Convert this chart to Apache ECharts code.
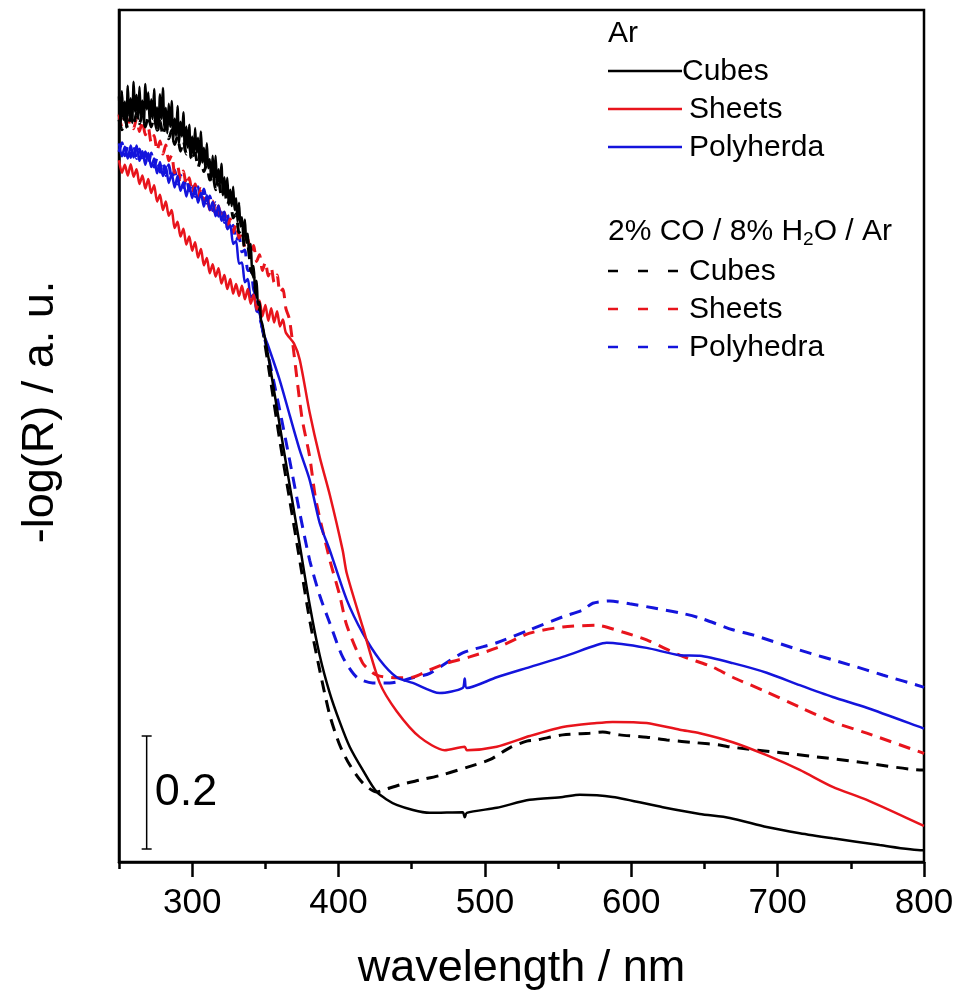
<!DOCTYPE html>
<html><head><meta charset="utf-8">
<script src="https://cdn.jsdelivr.net/npm/echarts@6/dist/echarts.min.js"></script>
<style>html,body{margin:0;padding:0;background:#fff}#c{width:959px;height:997px}</style>
</head><body><div id="c"></div>
<script>
const FONT = '"Liberation Sans", Arial, Helvetica, sans-serif';
const BLACK = '#000000', RED = '#e8141c', BLUE = '#1414dc';

const majorTicks = [300, 400, 500, 600, 700, 800];
const minorTicks = [250, 350, 450, 550, 650, 750];

// Ar, Cubes (solid black)
const arCubes = [[250,1.355],[251,1.305],[252,1.364],[253,1.314],[254,1.346],[255,1.300],[256,1.374],[257,1.319],[258,1.352],[259,1.308],[260,1.381],[261,1.327],[262,1.358],[263,1.315],[264,1.372],[265,1.320],[266,1.348],[267,1.307],[268,1.377],[269,1.332],[270,1.362],[271,1.308],[272,1.350],[273,1.315],[274,1.368],[275,1.306],[276,1.336],[277,1.296],[278,1.359],[279,1.315],[280,1.370],[281,1.301],[282,1.335],[283,1.290],[284,1.342],[285,1.301],[286,1.347],[287,1.276],[288,1.316],[289,1.285],[290,1.338],[291,1.272],[292,1.310],[293,1.284],[294,1.327],[295,1.258],[296,1.302],[297,1.264],[298,1.305],[299,1.246],[300,1.284],[301,1.250],[302,1.299],[303,1.255],[304,1.282],[305,1.235],[306,1.293],[307,1.238],[308,1.264],[309,1.227],[310,1.272],[311,1.228],[312,1.244],[313,1.207],[314,1.250],[315,1.206],[316,1.250],[317,1.197],[318,1.226],[319,1.200],[320,1.236],[321,1.180],[322,1.212],[323,1.180],[324,1.211],[325,1.163],[326,1.190],[327,1.161],[328,1.195],[329,1.154],[330,1.175],[331,1.133],[332,1.167],[333,1.125],[334,1.141],[335,1.104],[336,1.137],[337,1.096],[338,1.112],[339,1.070],[340,1.094],[341,1.045],[342,1.055],[343,1.010],[344,1.029],[345,0.986],[346,0.991],[347,0.960],[348,0.951],
 [353.0,0.880],[359.8,0.773],[366.6,0.667],[373.5,0.561],[380.3,0.455],[387.1,0.366],[394.0,0.299],[400.8,0.248],[407.6,0.204],[416.5,0.163],[426.1,0.124],[439.7,0.101],[462.3,0.087],[484.8,0.088],[486.2,0.079],[487.6,0.087],[508.1,0.096],[530.6,0.110],[553.2,0.115],[564.8,0.119],[587.3,0.115],[621.5,0.097],[646.8,0.085],[667.3,0.078],[692.5,0.062],[715.1,0.051],[737.6,0.042],[769.7,0.030],[799.1,0.021],[800,0.021]];

// Ar, Sheets (solid red)
const arSheets = [[250,1.242],[252,1.220],[254,1.234],[256,1.215],[258,1.235],[260,1.213],[262,1.226],[264,1.200],[266,1.215],[268,1.192],[270,1.209],[272,1.184],[274,1.198],[276,1.169],[278,1.181],[280,1.154],[282,1.169],[284,1.144],[286,1.154],[288,1.122],[290,1.133],[292,1.107],[294,1.121],[296,1.093],[298,1.107],[300,1.082],[302,1.097],[304,1.070],[306,1.085],[308,1.056],[310,1.069],[312,1.042],[314,1.058],[316,1.036],[318,1.051],[320,1.024],[322,1.039],[324,1.014],[326,1.032],[328,1.006],[330,1.023],[332,1.002],[334,1.020],[336,0.996],[338,1.014],[340,0.988],[342,1.004],[344,0.978],[346,0.994],[348,0.966],[350,0.986],[352,0.958],[354,0.980],[356,0.955],[358,0.975],[360,0.948],[362,0.960],[364,0.937],
 [369.5,0.918],[373.5,0.889],[380.3,0.795],[387.1,0.717],[394.0,0.650],[402.8,0.552],[405.6,0.511],[416.5,0.416],[428.1,0.317],[439.7,0.267],[455.5,0.221],[472.5,0.198],[486.2,0.204],[487.6,0.198],[508.1,0.204],[530.6,0.223],[553.2,0.239],[576.4,0.246],[587.3,0.248],[610.5,0.246],[633.1,0.234],[646.8,0.228],[669.3,0.212],[692.5,0.189],[715.1,0.163],[737.6,0.133],[760.9,0.110],[799.1,0.065],[800,0.064]];

// Ar, Polyherda (solid blue)
const arPolyhedra = [[250,1.272],[252,1.249],[254,1.266],[256,1.245],[258,1.268],[260,1.247],[262,1.268],[264,1.241],[266,1.258],[268,1.234],[270,1.255],[272,1.230],[274,1.245],[276,1.219],[278,1.239],[280,1.214],[282,1.231],[284,1.202],[286,1.218],[288,1.194],[290,1.214],[292,1.188],[294,1.203],[296,1.178],[298,1.198],[300,1.175],[302,1.194],[304,1.167],[306,1.184],[308,1.160],[310,1.180],[312,1.154],[314,1.168],[316,1.143],[318,1.162],[320,1.135],[322,1.151],[324,1.120],[326,1.127],[328,1.094],[330,1.099],[332,1.059],[334,1.061],[336,1.026],[338,1.032],[340,0.999],[342,1.005],[344,0.975],[346,0.972],[348,0.941],
 [351.6,0.916],[359.8,0.853],[366.6,0.791],[373.5,0.729],[380.3,0.676],[387.1,0.600],[394.0,0.552],[405.6,0.464],[416.5,0.405],[428.1,0.358],[439.7,0.327],[450.7,0.317],[469.1,0.299],[484.8,0.308],[486.2,0.325],[487.6,0.308],[508.1,0.327],[530.6,0.345],[553.2,0.363],[576.4,0.384],[583.2,0.388],[610.5,0.379],[633.1,0.366],[646.8,0.365],[669.3,0.352],[692.5,0.335],[715.1,0.313],[737.6,0.292],[760.9,0.273],[799.1,0.237],[800,0.236]];

// 2% CO / 8% H2O / Ar, Cubes (dashed black)
const coCubes = [[250,1.314],[252,1.296],[254,1.316],[256,1.298],[258,1.321],[260,1.304],[262,1.326],[264,1.307],[266,1.324],[268,1.301],[270,1.321],[272,1.301],[274,1.318],[276,1.295],[278,1.312],[280,1.286],[282,1.304],[284,1.280],[286,1.295],[288,1.270],[290,1.284],[292,1.258],[294,1.276],[296,1.253],[298,1.267],[300,1.241],[302,1.255],[304,1.229],[306,1.246],[308,1.222],[310,1.235],[312,1.207],[314,1.219],[316,1.190],[318,1.205],[320,1.180],[322,1.192],[324,1.163],[326,1.175],[328,1.140],[330,1.147],[332,1.114],[334,1.120],[336,1.084],[338,1.089],[340,1.048],[342,1.036],[344,0.990],[346,0.977],[348,0.945],
 [353.0,0.862],[359.8,0.747],[366.6,0.641],[373.5,0.534],[380.3,0.428],[387.1,0.340],[394.0,0.260],[400.8,0.207],[407.6,0.172],[416.5,0.140],[426.1,0.124],[430.2,0.127],[443.8,0.138],[455.5,0.145],[470.5,0.154],[488.2,0.168],[503.3,0.181],[516.9,0.202],[528.6,0.214],[535.4,0.216],[553.2,0.225],[571.6,0.228],[580.5,0.230],[592.1,0.225],[610.5,0.221],[624.2,0.216],[644.7,0.211],[660.4,0.207],[669.3,0.203],[703.5,0.193],[733.5,0.184],[760.9,0.175],[799.1,0.163],[800,0.163]];

// 2% CO / 8% H2O / Ar, Sheets (dashed red)
const coSheets = [[250,1.323],[252,1.301],[254,1.320],[256,1.300],[258,1.320],[260,1.298],[262,1.316],[264,1.293],[266,1.312],[268,1.287],[270,1.300],[272,1.273],[274,1.286],[276,1.259],[278,1.276],[280,1.253],[282,1.269],[284,1.241],[286,1.251],[288,1.220],[290,1.232],[292,1.208],[294,1.223],[296,1.198],[298,1.211],[300,1.184],[302,1.200],[304,1.176],[306,1.192],[308,1.167],[310,1.181],[312,1.154],[314,1.170],[316,1.146],[318,1.161],[320,1.136],[322,1.150],[324,1.123],[326,1.138],[328,1.114],[330,1.129],[332,1.104],[334,1.117],[336,1.088],[338,1.103],[340,1.077],[342,1.091],[344,1.063],[346,1.075],[348,1.047],[350,1.062],[352,1.037],[354,1.052],[356,1.026],[358,1.039],[360,1.008],[362,1.014],[364,0.980],[366.6,0.959],
 [374.9,0.788],[380.3,0.717],[384.5,0.641],[394.0,0.535],[400.8,0.472],[405.6,0.419],[416.5,0.352],[423.3,0.335],[428.1,0.329],[439.7,0.326],[450.7,0.327],[462.3,0.340],[473.9,0.352],[489.6,0.363],[508.1,0.379],[530.6,0.405],[553.2,0.416],[576.4,0.419],[594.1,0.407],[610.5,0.393],[633.1,0.366],[655.6,0.345],[669.3,0.327],[692.5,0.301],[715.1,0.274],[737.6,0.248],[760.9,0.228],[799.1,0.193],[800,0.192]];

// 2% CO / 8% H2O / Ar, Polyhedra (dashed blue)
const coPolyhedra = [[250,1.257],[252,1.273],[254,1.250],[256,1.268],[258,1.247],[260,1.268],[262,1.245],[264,1.262],[266,1.239],[268,1.257],[270,1.236],[272,1.255],[274,1.230],[276,1.246],[278,1.221],[280,1.238],[282,1.215],[284,1.234],[286,1.209],[288,1.225],[290,1.200],[292,1.216],[294,1.194],[296,1.212],[298,1.188],[300,1.203],[302,1.178],[304,1.195],[306,1.172],[308,1.191],[310,1.166],[312,1.179],[314,1.153],[316,1.167],[318,1.143],[320,1.159],[322,1.132],[324,1.146],[326,1.117],[328,1.127],[330,1.099],[332,1.109],[334,1.080],[336,1.083],[338,1.047],[340,1.047],[342,1.013],[344,1.001],[346,0.965],[348,0.945],
 [359.8,0.800],[366.6,0.711],[373.5,0.618],[380.3,0.534],[387.1,0.472],[394.0,0.423],[402.8,0.363],[412.4,0.327],[423.3,0.317],[435.0,0.317],[450.7,0.326],[462.3,0.334],[484.8,0.370],[508.1,0.388],[530.6,0.411],[553.2,0.434],[566.8,0.446],[573.7,0.458],[585.3,0.462],[598.9,0.457],[614.6,0.450],[633.1,0.441],[646.8,0.432],[669.3,0.411],[683.0,0.402],[715.1,0.375],[749.2,0.349],[771.8,0.331],[799.1,0.310],[800,0.309]];

// scale bar: [wavelength, lower value, upper value]
const scaleBar = [[268.9, 0.023, 0.223]];
const scaleBarLabel = '0.2';

const xAxisTitle = 'wavelength / nm';
const yAxisTitle = '-log(R) / a. u.';
const legendHeaderAr = 'Ar';
const legendHeaderCO = ['2% CO / 8% H', '2', 'O / Ar'];
const legendNamesAr = ['Cubes', 'Sheets', 'Polyherda'];
const legendNamesCO = ['Cubes', 'Sheets', 'Polyhedra'];

const chart = echarts.init(document.getElementById('c'), null, {renderer: 'canvas'});

function lineSeries(name, data, color, dashed) {
  return {
    name, type: 'line', data, showSymbol: false, symbol: 'none',
    smooth: 0.25,
    xAxisIndex: 0, yAxisIndex: 0, animation: false, silent: true,
    lineStyle: dashed ? {color, width: 3, type: [12, 8]} : {color, width: 2.5},
    z: dashed ? 2 : 3
  };
}

// legend graphics
const ctx = document.createElement('canvas').getContext('2d');
const LF = 30;
ctx.font = LF + 'px ' + FONT;
const w1 = ctx.measureText(legendHeaderCO[0]).width;
ctx.font = '19px ' + FONT;
const w2 = ctx.measureText(legendHeaderCO[1]).width;

function txt(x, y, s, size) {
  return {type: 'text', silent: true, style: {x, y, text: s, fill: '#000', font: (size || LF) + 'px ' + FONT, textVerticalAlign: 'middle'}};
}
function seg(x1, x2, y, color, dash) {
  return {type: 'line', silent: true, shape: {x1, y1: y, x2, y2: y}, style: {stroke: color, lineWidth: 2.5, lineDash: dash || null}};
}
const colors = [BLACK, RED, BLUE];
const graphics = [txt(608, 34, legendHeaderAr)];
const arRows = [71, 109, 147];
const coRows = [271, 309, 347];
legendNamesAr.forEach((n, i) => {
  graphics.push(seg(608, 682, arRows[i], colors[i]));
  graphics.push(txt(i === 0 ? 682 : 689, arRows[i] + 1, n));
});
graphics.push(txt(608, 232, legendHeaderCO[0]));
graphics.push(txt(608 + w1, 240, legendHeaderCO[1], 19));
graphics.push(txt(608 + w1 + w2, 232, legendHeaderCO[2]));
legendNamesCO.forEach((n, i) => {
  graphics.push(seg(608, 680, coRows[i], colors[i], [10, 20]));
  graphics.push(txt(689, coRows[i] + 1, n));
});
// y-axis title
graphics.push({type: 'text', silent: true, x: 41, y: 412, rotation: Math.PI / 2,
  style: {text: yAxisTitle, fill: '#000', font: '45px ' + FONT, textAlign: 'center', textVerticalAlign: 'middle'}});

const option = {
  animation: false,
  backgroundColor: '#fff',
  grid: {left: 119, right: 35, top: 10, bottom: 135, show: true, borderColor: '#000', borderWidth: 2.5, backgroundColor: 'transparent', containLabel: false},
  xAxis: [{
    type: 'value', min: 250, max: 800, position: 'bottom',
    axisLine: {show: true, lineStyle: {color: '#000', width: 2.5}},
    axisTick: {show: true, customValues: majorTicks, length: 15, inside: false, lineStyle: {color: '#000', width: 2.5}},
    axisLabel: {show: true, customValues: majorTicks, fontSize: 35, fontFamily: FONT, color: '#000', margin: 24},
    splitLine: {show: false},
    name: xAxisTitle, nameLocation: 'middle', nameGap: 84,
    nameTextStyle: {fontSize: 45, fontFamily: FONT, color: '#000'}
  }, {
    type: 'value', min: 250, max: 800, position: 'bottom',
    axisLine: {show: false},
    axisTick: {show: true, customValues: minorTicks, length: 7, inside: false, lineStyle: {color: '#000', width: 2.5}},
    axisLabel: {show: false},
    splitLine: {show: false}
  }],
  yAxis: {
    type: 'value', min: 0, max: 1.508,
    axisLine: {show: true, lineStyle: {color: '#000', width: 2.5}},
    axisTick: {show: false}, axisLabel: {show: false}, splitLine: {show: false}
  },
  graphic: graphics,
  series: [
    lineSeries('Polyhedra (CO)', coPolyhedra, BLUE, true),
    lineSeries('Sheets (CO)', coSheets, RED, true),
    lineSeries('Cubes (CO)', coCubes, BLACK, true),
    lineSeries('Polyherda', arPolyhedra, BLUE, false),
    lineSeries('Sheets', arSheets, RED, false),
    lineSeries('Cubes', arCubes, BLACK, false),
    {
      type: 'custom', data: scaleBar, silent: true, clip: false, z: 5,
      renderItem: function (params, api) {
        const x = api.value(0);
        const p1 = api.coord([x, api.value(1)]);
        const p2 = api.coord([x, api.value(2)]);
        const st = {stroke: '#000', lineWidth: 1.5};
        return {type: 'group', children: [
          {type: 'line', shape: {x1: p1[0], y1: p1[1], x2: p2[0], y2: p2[1]}, style: st},
          {type: 'line', shape: {x1: p1[0] - 5, y1: p1[1], x2: p1[0] + 5, y2: p1[1]}, style: st},
          {type: 'line', shape: {x1: p2[0] - 5, y1: p2[1], x2: p2[0] + 5, y2: p2[1]}, style: st},
          {type: 'text', style: {x: p1[0] + 8, y: (p1[1] + p2[1]) / 2, text: scaleBarLabel, fill: '#000', font: '45px ' + FONT, textVerticalAlign: 'middle'}}
        ]};
      }
    }
  ]
};
chart.setOption(option);
</script></body></html>
